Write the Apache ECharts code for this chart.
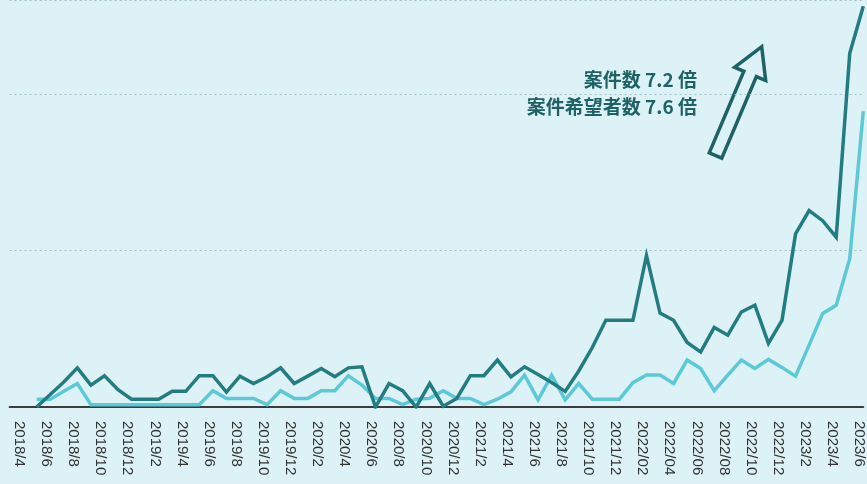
<!DOCTYPE html>
<html><head><meta charset="utf-8">
<script src="https://cdn.jsdelivr.net/npm/echarts@6/dist/echarts.min.js"></script>
<style>html,body{margin:0;padding:0;background:#ddf2f7;}#c{width:867px;height:484px;}</style>
</head><body><div id="c"></div>
<script>
// Tick labels (every two months, 2018/4 .. 2023/6)
const tickLabels = ['2018/4','2018/6','2018/8','2018/10','2018/12','2019/2','2019/4','2019/6','2019/8','2019/10','2019/12','2020/2','2020/4','2020/6','2020/8','2020/10','2020/12','2021/2','2021/4','2021/6','2021/8','2021/10','2021/12','2022/02','2022/04','2022/06','2022/08','2022/10','2022/12','2023/2','2023/4','2023/6'];
// Monthly values 2018/5 .. 2023/6 (index, relative scale)
const casesSeries = [0,8,16,25,14,20,11,5,5,5,10,10,20,20,9.5,19.7,15,19.3,25,15,19.7,24.6,19.3,25,25.7,0,15,10.4,0,15,0.5,5.5,20,20,30,19.3,25.7,20.8,15.7,10,23,38,55.4,55.4,55.4,96.8,60,55.4,41.2,35.2,50.8,45.9,60.7,65,40.6,55.4,110.6,125.5,119,108.5,226,256];
const applicantsSeries = [5,5,10,15,1.5,1.5,1.5,1.5,1.5,1.5,1.5,1.5,1.5,10.4,5.5,5.5,5.5,1.5,10.4,5.5,5.5,10.4,10.4,20,14,5.5,5.5,1.5,5,5.5,10.4,5.5,5.5,1.5,5,9.7,20.4,4.5,20.4,4.5,15,5,5,5,15.5,20.4,20.4,15,30,24.6,10.4,20.4,30,24.6,30.4,25.3,19.7,39.5,59.7,65,94.7,189];
const noteLines = ['案件数 7.2 倍','案件希望者数 7.6 倍'];

// category list: padding slot, then months
const cats = [''];
tickLabels.forEach((t,i)=>{ cats.push(t); if(i<tickLabels.length-1) cats.push(''); });
const offset = 2; // 2018/5 position in cats
const pad = n => Array(n).fill(null);
const dCases = pad(offset).concat(casesSeries);
const dApps = pad(offset).concat(applicantsSeries);

// arrow outline (decoration)
const B=[715.5,155.5], T=[761.7,46.7];
const L=Math.hypot(T[0]-B[0],T[1]-B[1]);
const u=[(T[0]-B[0])/L,(T[1]-B[1])/L], n=[-u[1],u[0]];
const sw=6.8, hw=16.9, hl=29.6;
const H=[T[0]-hl*u[0],T[1]-hl*u[1]];
const P=(c,k)=>[c[0]+k*n[0],c[1]+k*n[1]];
const arrowPts=[P(B,-sw),P(H,-sw),P(H,-hw),T,P(H,hw),P(H,sw),P(B,sw)];

const chart = echarts.init(document.getElementById('c'), null, {renderer:'canvas'});
chart.setOption({
  backgroundColor:'#ddf2f7',
  animation:false,
  grid:{left:9.6, right:3.7, top:-1.2, bottom:77, containLabel:false},
  xAxis:{type:'category', data:cats, boundaryGap:false,
    axisLine:{show:true, lineStyle:{color:'#3c3c3c', width:2}},
    axisTick:{show:false},
    axisLabel:{interval:0, rotate:-90, margin:14, color:'#333', fontSize:15,
      fontFamily:'Liberation Sans, Arial, sans-serif', verticalAlign:'top', lineHeight:8, hideOverlap:false},
    splitLine:{show:false}},
  yAxis:{type:'value', min:0, max:260, interval:100,
    axisLine:{show:false}, axisTick:{show:false}, axisLabel:{show:false},
    splitLine:{show:true, lineStyle:{color:'#9fc2c6', type:[2,3], width:1}}},
  series:[
    {type:'line', data:dApps, showSymbol:false, symbol:'none', smooth:false,
      lineStyle:{color:'#5cc9d6', width:3.5, join:'miter'}, z:2},
    {type:'line', data:dCases, showSymbol:false, symbol:'none', smooth:false,
      lineStyle:{color:'#237c80', width:3.5, join:'miter'}, z:3}
  ],
  graphic:[
    {type:'text', x:697, y:80, style:{text:noteLines[0], align:'right', verticalAlign:'middle',
      fill:'#1f6266', font:'bold 19px "Noto Sans CJK JP", sans-serif'}},
    {type:'text', x:697, y:107, style:{text:noteLines[1], align:'right', verticalAlign:'middle',
      fill:'#1f6266', font:'bold 19px "Noto Sans CJK JP", sans-serif'}},
    {type:'polygon', shape:{points:arrowPts}, style:{fill:'none', stroke:'#1f6266', lineWidth:3.5, lineJoin:'miter'}}
  ]
});
</script></body></html>
